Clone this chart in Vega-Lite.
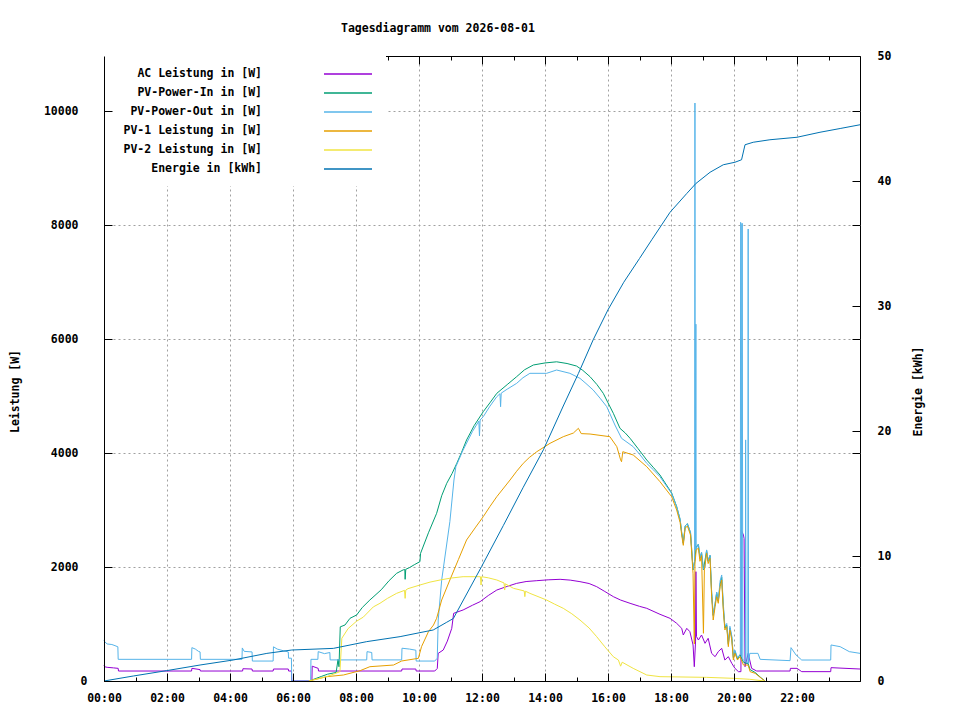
{
  "$schema": "https://vega.github.io/schema/vega-lite/v6.json",
  "width": 756,
  "height": 625,
  "autosize": {"type": "none"},
  "padding": {"left": 104, "top": 56, "right": 100, "bottom": 39},
  "background": "#ffffff",
  "title": {
    "text": "Tagesdiagramm vom 2026-08-01",
    "anchor": "start",
    "frame": "group",
    "dx": 237,
    "offset": 16,
    "font": "DejaVu Sans Mono",
    "fontSize": 11.5,
    "fontWeight": "bold",
    "color": "#000000"
  },
  "datasets": {
    "ac": [
      {"t": 0, "v": 280}, {"t": 0.02, "v": 250}, {"t": 0.1, "v": 240}, {"t": 0.3, "v": 230}, {"t": 0.45, "v": 222}, {"t": 0.46, "v": 175},
      {"t": 2.78, "v": 175}, {"t": 2.79, "v": 222}, {"t": 3.05, "v": 200}, {"t": 3.06, "v": 175}, {"t": 4.4, "v": 175}, {"t": 4.41, "v": 215},
      {"t": 4.7, "v": 210}, {"t": 4.71, "v": 175}, {"t": 5.37, "v": 175}, {"t": 5.38, "v": 210}, {"t": 5.85, "v": 210}, {"t": 5.86, "v": 175},
      {"t": 5.95, "v": 175}, {"t": 5.96, "v": 0}, {"t": 6.6, "v": 0}, {"t": 6.61, "v": 260}, {"t": 6.8, "v": 222}, {"t": 6.81, "v": 175},
      {"t": 9.45, "v": 175}, {"t": 9.46, "v": 210}, {"t": 9.9, "v": 210}, {"t": 9.91, "v": 175}, {"t": 10.5, "v": 175}, {"t": 10.58, "v": 220},
      {"t": 10.61, "v": 485}, {"t": 10.77, "v": 544}, {"t": 10.9, "v": 700}, {"t": 11.04, "v": 924}, {"t": 11.1, "v": 1187}, {"t": 11.4, "v": 1246},
      {"t": 11.7, "v": 1330}, {"t": 11.94, "v": 1392}, {"t": 12.2, "v": 1500}, {"t": 12.47, "v": 1596}, {"t": 12.8, "v": 1660}, {"t": 13.1, "v": 1713},
      {"t": 13.4, "v": 1745}, {"t": 13.74, "v": 1760}, {"t": 14.1, "v": 1775}, {"t": 14.48, "v": 1784}, {"t": 14.8, "v": 1770}, {"t": 15.11, "v": 1743},
      {"t": 15.4, "v": 1710}, {"t": 15.64, "v": 1655}, {"t": 15.9, "v": 1570}, {"t": 16.17, "v": 1480}, {"t": 16.4, "v": 1420}, {"t": 16.7, "v": 1363},
      {"t": 17.0, "v": 1310}, {"t": 17.23, "v": 1275}, {"t": 17.65, "v": 1170}, {"t": 17.97, "v": 1099},
      {"t": 18.18, "v": 1012}, {"t": 18.34, "v": 924}, {"t": 18.39, "v": 807}, {"t": 18.5, "v": 924}, {"t": 18.6, "v": 865}, {"t": 18.7, "v": 632},
      {"t": 18.74, "v": 251}, {"t": 18.78, "v": 700}, {"t": 18.79, "v": 1918}, {"t": 18.81, "v": 780}, {"t": 18.87, "v": 719}, {"t": 18.97, "v": 807},
      {"t": 19.08, "v": 661}, {"t": 19.18, "v": 749}, {"t": 19.29, "v": 485}, {"t": 19.4, "v": 427}, {"t": 19.5, "v": 515}, {"t": 19.61, "v": 573},
      {"t": 19.71, "v": 368}, {"t": 19.82, "v": 427}, {"t": 19.93, "v": 310}, {"t": 20.03, "v": 222}, {"t": 20.14, "v": 164}, {"t": 20.22, "v": 164},
      {"t": 20.23, "v": 2649}, {"t": 20.3, "v": 2561}, {"t": 20.32, "v": 2500}, {"t": 20.35, "v": 251}, {"t": 20.45, "v": 485}, {"t": 20.56, "v": 222},
      {"t": 20.72, "v": 175}, {"t": 21.78, "v": 175}, {"t": 21.79, "v": 222}, {"t": 22.0, "v": 222}, {"t": 22.15, "v": 164}, {"t": 23.07, "v": 164},
      {"t": 23.08, "v": 234}, {"t": 24, "v": 210}
    ],
    "pin": [
      {"t": 6.6, "v": 18}, {"t": 6.9, "v": 80}, {"t": 7.1, "v": 120}, {"t": 7.37, "v": 150}, {"t": 7.43, "v": 380}, {"t": 7.46, "v": 250},
      {"t": 7.5, "v": 950}, {"t": 7.65, "v": 982}, {"t": 7.81, "v": 1100}, {"t": 8.02, "v": 1158}, {"t": 8.2, "v": 1290}, {"t": 8.44, "v": 1421},
      {"t": 8.8, "v": 1600}, {"t": 9.05, "v": 1760}, {"t": 9.29, "v": 1889}, {"t": 9.5, "v": 1950}, {"t": 9.55, "v": 1955}, {"t": 9.56, "v": 1784},
      {"t": 9.58, "v": 1960}, {"t": 9.7, "v": 1990}, {"t": 9.85, "v": 2040},
      {"t": 10.03, "v": 2094}, {"t": 10.05, "v": 2240}, {"t": 10.3, "v": 2600}, {"t": 10.56, "v": 2942}, {"t": 10.72, "v": 3250},
      {"t": 10.88, "v": 3468}, {"t": 11.05, "v": 3640}, {"t": 11.2, "v": 3819}, {"t": 11.35, "v": 4010}, {"t": 11.51, "v": 4228}, {"t": 11.75, "v": 4480},
      {"t": 12.04, "v": 4725}, {"t": 12.25, "v": 4880}, {"t": 12.47, "v": 5047}, {"t": 12.8, "v": 5200}, {"t": 13.1, "v": 5339}, {"t": 13.35, "v": 5460},
      {"t": 13.63, "v": 5544}, {"t": 14.0, "v": 5580}, {"t": 14.37, "v": 5600}, {"t": 14.7, "v": 5570}, {"t": 15.0, "v": 5526}, {"t": 15.2, "v": 5450},
      {"t": 15.43, "v": 5339}, {"t": 15.65, "v": 5200}, {"t": 15.85, "v": 5047}, {"t": 16.0, "v": 4880}, {"t": 16.17, "v": 4696}, {"t": 16.38, "v": 4433},
      {"t": 16.55, "v": 4350}, {"t": 16.7, "v": 4258}, {"t": 16.95, "v": 4080}, {"t": 17.23, "v": 3877}, {"t": 17.45, "v": 3740}, {"t": 17.65, "v": 3614},
      {"t": 18.02, "v": 3300}, {"t": 18.18, "v": 3060}, {"t": 18.29, "v": 2830}, {"t": 18.34, "v": 2600}, {"t": 18.39, "v": 2420}, {"t": 18.45, "v": 2720},
      {"t": 18.52, "v": 2760}, {"t": 18.62, "v": 2600}, {"t": 18.7, "v": 1950}, {"t": 18.75, "v": 2100}, {"t": 18.8, "v": 2350}, {"t": 18.87, "v": 2400},
      {"t": 18.92, "v": 2150}, {"t": 18.97, "v": 2250}, {"t": 19.03, "v": 1950}, {"t": 19.13, "v": 2290}, {"t": 19.18, "v": 2100}, {"t": 19.24, "v": 2200},
      {"t": 19.29, "v": 1550}, {"t": 19.34, "v": 1150}, {"t": 19.4, "v": 1350}, {"t": 19.45, "v": 1550}, {"t": 19.5, "v": 1400}, {"t": 19.56, "v": 1700},
      {"t": 19.61, "v": 1820}, {"t": 19.66, "v": 1300}, {"t": 19.71, "v": 930}, {"t": 19.77, "v": 980}, {"t": 19.82, "v": 640}, {"t": 19.87, "v": 930},
      {"t": 19.93, "v": 760}, {"t": 19.98, "v": 410}, {"t": 20.03, "v": 520}, {"t": 20.11, "v": 390}, {"t": 20.19, "v": 460}, {"t": 20.3, "v": 330},
      {"t": 20.45, "v": 300}, {"t": 20.51, "v": 200}, {"t": 20.67, "v": 150}, {"t": 20.83, "v": 70}, {"t": 20.98, "v": 0}
    ],
    "pout": [
      {"t": 0, "v": 720}, {"t": 0.02, "v": 690}, {"t": 0.1, "v": 650}, {"t": 0.25, "v": 640}, {"t": 0.35, "v": 620}, {"t": 0.44, "v": 600},
      {"t": 0.45, "v": 380}, {"t": 2.78, "v": 380}, {"t": 2.79, "v": 585}, {"t": 2.9, "v": 560}, {"t": 3.0, "v": 520}, {"t": 3.05, "v": 510},
      {"t": 3.06, "v": 380}, {"t": 4.38, "v": 380}, {"t": 4.39, "v": 580}, {"t": 4.45, "v": 520}, {"t": 4.7, "v": 510}, {"t": 4.71, "v": 350},
      {"t": 5.37, "v": 350}, {"t": 5.38, "v": 600}, {"t": 5.5, "v": 560}, {"t": 5.7, "v": 530}, {"t": 5.85, "v": 510}, {"t": 5.86, "v": 400},
      {"t": 5.95, "v": 400}, {"t": 5.96, "v": 0}, {"t": 6.56, "v": 0}, {"t": 6.57, "v": 380}, {"t": 6.79, "v": 380}, {"t": 6.8, "v": 515},
      {"t": 7.0, "v": 480}, {"t": 7.17, "v": 500}, {"t": 7.18, "v": 370}, {"t": 8.34, "v": 370}, {"t": 8.35, "v": 515}, {"t": 8.5, "v": 500},
      {"t": 8.51, "v": 370}, {"t": 9.45, "v": 370}, {"t": 9.46, "v": 575}, {"t": 9.7, "v": 560}, {"t": 9.9, "v": 540}, {"t": 9.91, "v": 350},
      {"t": 10.5, "v": 350}, {"t": 10.58, "v": 400}, {"t": 10.61, "v": 1070}, {"t": 10.72, "v": 1770}, {"t": 10.98, "v": 2795}, {"t": 11.11, "v": 3526},
      {"t": 11.17, "v": 3760}, {"t": 11.4, "v": 4053}, {"t": 11.7, "v": 4380}, {"t": 11.9, "v": 4560}, {"t": 11.92, "v": 4300}, {"t": 11.94, "v": 4580},
      {"t": 12.04, "v": 4637}, {"t": 12.25, "v": 4820}, {"t": 12.47, "v": 4988}, {"t": 12.57, "v": 5040}, {"t": 12.59, "v": 4812}, {"t": 12.61, "v": 5050},
      {"t": 12.8, "v": 5120}, {"t": 13.1, "v": 5222}, {"t": 13.3, "v": 5320}, {"t": 13.52, "v": 5398}, {"t": 14.05, "v": 5398}, {"t": 14.37, "v": 5456},
      {"t": 14.79, "v": 5398}, {"t": 15.11, "v": 5310}, {"t": 15.3, "v": 5220}, {"t": 15.53, "v": 5105}, {"t": 15.75, "v": 4960}, {"t": 15.96, "v": 4813},
      {"t": 16.22, "v": 4491}, {"t": 16.43, "v": 4258}, {"t": 16.8, "v": 4111}, {"t": 17.0, "v": 3980}, {"t": 17.23, "v": 3819}, {"t": 17.45, "v": 3700},
      {"t": 17.65, "v": 3584}, {"t": 18.02, "v": 3290}, {"t": 18.18, "v": 3060}, {"t": 18.29, "v": 2840}, {"t": 18.34, "v": 2600}, {"t": 18.39, "v": 2410},
      {"t": 18.45, "v": 2720}, {"t": 18.52, "v": 2760}, {"t": 18.62, "v": 2610}, {"t": 18.7, "v": 1960}, {"t": 18.75, "v": 2110}, {"t": 18.76, "v": 10140},
      {"t": 18.77, "v": 2300}, {"t": 18.79, "v": 6260}, {"t": 18.8, "v": 2320}, {"t": 18.87, "v": 2400}, {"t": 18.92, "v": 2160}, {"t": 18.97, "v": 2260},
      {"t": 19.03, "v": 1960}, {"t": 19.08, "v": 2000}, {"t": 19.13, "v": 2300}, {"t": 19.18, "v": 2110}, {"t": 19.24, "v": 2210}, {"t": 19.29, "v": 1560},
      {"t": 19.34, "v": 1160}, {"t": 19.4, "v": 1360}, {"t": 19.45, "v": 1560}, {"t": 19.5, "v": 1410}, {"t": 19.56, "v": 1760}, {"t": 19.61, "v": 1860},
      {"t": 19.66, "v": 1360}, {"t": 19.71, "v": 960}, {"t": 19.77, "v": 1010}, {"t": 19.82, "v": 660}, {"t": 19.87, "v": 960}, {"t": 19.93, "v": 790},
      {"t": 19.98, "v": 430}, {"t": 20.03, "v": 540}, {"t": 20.11, "v": 410}, {"t": 20.2, "v": 470}, {"t": 20.21, "v": 8047}, {"t": 20.23, "v": 8000},
      {"t": 20.24, "v": 420}, {"t": 20.26, "v": 8030}, {"t": 20.28, "v": 380}, {"t": 20.36, "v": 340}, {"t": 20.37, "v": 4230}, {"t": 20.38, "v": 330},
      {"t": 20.44, "v": 320}, {"t": 20.45, "v": 7930}, {"t": 20.46, "v": 300}, {"t": 20.5, "v": 485}, {"t": 20.76, "v": 485}, {"t": 20.83, "v": 380},
      {"t": 21.78, "v": 357}, {"t": 21.81, "v": 585}, {"t": 21.97, "v": 456}, {"t": 22.15, "v": 368}, {"t": 23.07, "v": 368}, {"t": 23.08, "v": 632},
      {"t": 23.37, "v": 602}, {"t": 23.66, "v": 515}, {"t": 24, "v": 485}
    ],
    "pv1": [
      {"t": 6.5, "v": 0}, {"t": 7.07, "v": 76}, {"t": 7.6, "v": 105}, {"t": 8.13, "v": 181}, {"t": 8.44, "v": 251}, {"t": 9.19, "v": 280},
      {"t": 9.45, "v": 351}, {"t": 9.98, "v": 398}, {"t": 10.08, "v": 602}, {"t": 10.3, "v": 865}, {"t": 10.46, "v": 982}, {"t": 10.56, "v": 1100},
      {"t": 10.72, "v": 1421}, {"t": 10.98, "v": 1772}, {"t": 11.25, "v": 2130}, {"t": 11.51, "v": 2474}, {"t": 11.8, "v": 2700}, {"t": 12.04, "v": 2883},
      {"t": 12.25, "v": 3060}, {"t": 12.47, "v": 3234}, {"t": 12.89, "v": 3526}, {"t": 13.1, "v": 3680}, {"t": 13.31, "v": 3819}, {"t": 13.5, "v": 3920},
      {"t": 13.74, "v": 4023}, {"t": 14.16, "v": 4170}, {"t": 14.58, "v": 4286}, {"t": 14.9, "v": 4350}, {"t": 15.06, "v": 4433},
      {"t": 15.15, "v": 4340}, {"t": 15.43, "v": 4333}, {"t": 16.06, "v": 4286}, {"t": 16.28, "v": 4111}, {"t": 16.4, "v": 3880}, {"t": 16.43, "v": 3847},
      {"t": 16.47, "v": 4023}, {"t": 16.8, "v": 3965}, {"t": 17.23, "v": 3760}, {"t": 17.65, "v": 3497}, {"t": 18.02, "v": 3234}, {"t": 18.18, "v": 3000},
      {"t": 18.29, "v": 2780}, {"t": 18.34, "v": 2560}, {"t": 18.39, "v": 2380}, {"t": 18.45, "v": 2680}, {"t": 18.52, "v": 2720}, {"t": 18.62, "v": 2560},
      {"t": 18.7, "v": 1880}, {"t": 18.74, "v": 650}, {"t": 18.76, "v": 2050}, {"t": 18.8, "v": 2300}, {"t": 18.87, "v": 2330}, {"t": 18.92, "v": 2100},
      {"t": 18.97, "v": 2200}, {"t": 19.03, "v": 837}, {"t": 19.06, "v": 1950}, {"t": 19.13, "v": 2240}, {"t": 19.18, "v": 2060}, {"t": 19.24, "v": 2150},
      {"t": 19.29, "v": 1479}, {"t": 19.34, "v": 1070}, {"t": 19.4, "v": 1304}, {"t": 19.45, "v": 1479}, {"t": 19.5, "v": 1363}, {"t": 19.56, "v": 1655},
      {"t": 19.61, "v": 1772}, {"t": 19.66, "v": 1250}, {"t": 19.71, "v": 895}, {"t": 19.77, "v": 953}, {"t": 19.82, "v": 602}, {"t": 19.87, "v": 895},
      {"t": 19.93, "v": 719}, {"t": 19.98, "v": 368}, {"t": 20.03, "v": 485}, {"t": 20.11, "v": 368}, {"t": 20.19, "v": 427}, {"t": 20.3, "v": 280},
      {"t": 20.45, "v": 280}, {"t": 20.51, "v": 164}, {"t": 20.67, "v": 135}, {"t": 20.83, "v": 64}, {"t": 20.98, "v": 0}
    ],
    "pv2": [
      {"t": 6.5, "v": 0}, {"t": 7.07, "v": 76}, {"t": 7.49, "v": 163}, {"t": 7.55, "v": 749}, {"t": 7.75, "v": 920}, {"t": 8.02, "v": 1050},
      {"t": 8.23, "v": 1120}, {"t": 8.55, "v": 1300}, {"t": 8.76, "v": 1363}, {"t": 9.0, "v": 1450}, {"t": 9.29, "v": 1538}, {"t": 9.54, "v": 1590},
      {"t": 9.56, "v": 1450}, {"t": 9.58, "v": 1595}, {"t": 9.65, "v": 1620},
      {"t": 10.03, "v": 1684}, {"t": 10.35, "v": 1735}, {"t": 10.67, "v": 1772}, {"t": 11.0, "v": 1805}, {"t": 11.4, "v": 1830}, {"t": 11.95, "v": 1830},
      {"t": 11.97, "v": 1684}, {"t": 11.99, "v": 1830},
      {"t": 12.2, "v": 1810}, {"t": 12.47, "v": 1772}, {"t": 12.7, "v": 1720}, {"t": 12.72, "v": 1596}, {"t": 12.74, "v": 1705}, {"t": 13.0, "v": 1626},
      {"t": 13.34, "v": 1580}, {"t": 13.36, "v": 1480}, {"t": 13.38, "v": 1575}, {"t": 13.52, "v": 1538}, {"t": 14.05, "v": 1421},
      {"t": 14.3, "v": 1350}, {"t": 14.58, "v": 1275}, {"t": 14.85, "v": 1180}, {"t": 15.11, "v": 1070}, {"t": 15.4, "v": 930}, {"t": 15.64, "v": 778},
      {"t": 15.9, "v": 600}, {"t": 16.17, "v": 426}, {"t": 16.33, "v": 368}, {"t": 16.4, "v": 260},
      {"t": 16.45, "v": 330}, {"t": 16.8, "v": 222}, {"t": 17.23, "v": 105}, {"t": 17.65, "v": 76}, {"t": 19.13, "v": 64}, {"t": 19.98, "v": 47},
      {"t": 20.5, "v": 30}, {"t": 20.98, "v": 0}
    ],
    "en": [
      {"t": 0, "v": 0}, {"t": 0.93, "v": 0.4}, {"t": 1.99, "v": 0.83}, {"t": 3.05, "v": 1.28}, {"t": 4.1, "v": 1.68}, {"t": 5.17, "v": 2.21},
      {"t": 5.96, "v": 2.48}, {"t": 7.28, "v": 2.61}, {"t": 8.34, "v": 3.15}, {"t": 9.4, "v": 3.55}, {"t": 10.03, "v": 3.87}, {"t": 10.45, "v": 4.08},
      {"t": 10.88, "v": 4.7}, {"t": 11.09, "v": 5.0}, {"t": 11.99, "v": 9.17}, {"t": 12.68, "v": 12.45}, {"t": 13.31, "v": 15.5}, {"t": 13.95, "v": 18.5},
      {"t": 14.58, "v": 22.0}, {"t": 15.06, "v": 24.6}, {"t": 15.53, "v": 27.3}, {"t": 16.0, "v": 29.7}, {"t": 16.5, "v": 31.9}, {"t": 17.0, "v": 33.8},
      {"t": 17.39, "v": 35.3}, {"t": 17.97, "v": 37.5}, {"t": 18.5, "v": 39.0}, {"t": 18.79, "v": 39.8}, {"t": 19.24, "v": 40.7}, {"t": 19.66, "v": 41.3},
      {"t": 20.03, "v": 41.5}, {"t": 20.24, "v": 41.7}, {"t": 20.35, "v": 42.9}, {"t": 20.61, "v": 43.1}, {"t": 21.14, "v": 43.3}, {"t": 22.0, "v": 43.5},
      {"t": 22.73, "v": 43.9}, {"t": 23.37, "v": 44.2}, {"t": 24, "v": 44.5}
    ]
  },
  "layer": [
    {
      "layer": [
        {
          "data": {"name": "ac"},
          "mark": {"type": "line", "strokeWidth": 1},
          "encoding": {
            "x": {
              "field": "t", "type": "quantitative",
              "scale": {"domain": [0, 24], "nice": false, "zero": false},
              "axis": {
                "orient": "bottom", "values": [0, 2, 4, 6, 8, 10, 12, 14, 16, 18, 20, 22],
                "labelExpr": "(datum.value < 10 ? '0' : '') + datum.value + ':00'",
                "tickSize": -8, "labelPadding": 19, "grid": false, "title": null, "zindex": 1
              }
            },
            "y": {
              "field": "v", "type": "quantitative",
              "scale": {"domain": [0, 10965], "nice": false, "zero": false},
              "axis": {
                "orient": "left", "values": [0, 2000, 4000, 6000, 8000, 10000], "format": "d",
                "tickSize": -8,
                "labelPadding": {"condition": {"test": "datum.value === 0", "value": 25}, "value": 34},
                "grid": false, "title": "Leistung [W]", "titleAngle": 270, "titleX": -84, "titleY": 335, "zindex": 1
              }
            },
            "color": {
              "datum": "AC Leistung in [W]", "type": "nominal",
              "scale": {
                "domain": ["AC Leistung in [W]", "PV-Power-In in [W]", "PV-Power-Out in [W]", "PV-1 Leistung in [W]", "PV-2 Leistung in [W]", "Energie in [kWh]"],
                "range": ["#9400d3", "#009e73", "#56b4e9", "#e69f00", "#f0e442", "#0072b2"]
              },
              "legend": {
                "title": null, "orient": "none", "legendX": 0, "legendY": 0
              }
            }
          }
        },
        {
          "data": {"name": "pin"},
          "mark": {"type": "line", "strokeWidth": 1},
          "encoding": {
            "x": {
              "field": "t", "type": "quantitative",
              "axis": {
                "orient": "top", "values": [1, 2, 3, 4, 5, 6, 7, 8, 9, 10, 11, 12, 13, 14, 15, 16, 17, 18, 19, 20, 21, 22, 23],
                "labels": false, "domain": false, "title": null,
                "tickSize": {"condition": {"test": "datum.value % 2 === 1", "value": -4}, "value": -8},
                "grid": true,
                "gridOpacity": {"condition": {"test": "datum.value % 2 === 1", "value": 0}, "value": 1},
                "zindex": 0
              }
            },
            "y": {
              "field": "v", "type": "quantitative",
              "axis": {
                "orient": "right", "values": [2000, 4000, 6000, 8000, 10000],
                "labels": false, "domain": false, "title": null, "tickSize": -8, "grid": true, "zindex": 0
              }
            },
            "color": {"datum": "PV-Power-In in [W]", "type": "nominal"}
          }
        },
        {
          "data": {"name": "pout"},
          "mark": {"type": "line", "strokeWidth": 1},
          "encoding": {
            "x": {
              "field": "t", "type": "quantitative",
              "axis": {
                "orient": "bottom", "values": [1, 3, 5, 7, 9, 11, 13, 15, 17, 19, 21, 23],
                "labels": false, "domain": false, "title": null, "tickSize": -4, "grid": false, "zindex": 1
              }
            },
            "y": {"field": "v", "type": "quantitative", "axis": null},
            "color": {"datum": "PV-Power-Out in [W]", "type": "nominal"}
          }
        },
        {
          "data": {"name": "pv1"},
          "mark": {"type": "line", "strokeWidth": 1},
          "encoding": {
            "x": {"field": "t", "type": "quantitative", "axis": null},
            "y": {"field": "v", "type": "quantitative", "axis": null},
            "color": {"datum": "PV-1 Leistung in [W]", "type": "nominal"}
          }
        },
        {
          "data": {"name": "pv2"},
          "mark": {"type": "line", "strokeWidth": 1},
          "encoding": {
            "x": {"field": "t", "type": "quantitative", "axis": null},
            "y": {"field": "v", "type": "quantitative", "axis": null},
            "color": {"datum": "PV-2 Leistung in [W]", "type": "nominal"}
          }
        }
      ],
      "resolve": {"axis": {"x": "independent", "y": "independent"}}
    },
    {
      "data": {"name": "en"},
      "mark": {"type": "line", "strokeWidth": 1},
      "encoding": {
        "x": {"field": "t", "type": "quantitative", "axis": null},
        "y": {
          "field": "v", "type": "quantitative",
          "scale": {"domain": [0, 50], "nice": false, "zero": false},
          "axis": {
            "orient": "right", "values": [0, 10, 20, 30, 40, 50],
            "tickSize": -8, "labelPadding": 25, "domain": false, "grid": false,
            "title": "Energie [kWh]", "titleAngle": 270, "titleX": 63, "titleY": 335, "zindex": 1
          }
        },
        "color": {"datum": "Energie in [kWh]", "type": "nominal"}
      }
    }
  ],
  "resolve": {"scale": {"y": "independent"}, "axis": {"x": "independent"}},
  "config": {
    "font": "DejaVu Sans Mono",
    "view": {"stroke": "#000000", "strokeWidth": 1},
    "axis": {
      "labelFont": "DejaVu Sans Mono", "labelFontSize": 11.5, "labelFontWeight": "bold", "labelColor": "#000000",
      "titleFont": "DejaVu Sans Mono", "titleFontSize": 11.5, "titleFontWeight": "bold", "titleColor": "#000000",
      "tickColor": "#000000", "tickWidth": 1, "domainColor": "#000000", "domainWidth": 1,
      "gridColor": "#a0a0a0", "gridDash": [2, 3], "gridWidth": 1, "labelFlush": false, "labelOverlap": false
    },
    "legend": {
      "fillColor": "#ffffff", "padding": 11, "symbolType": "M-4,0H4", "symbolSize": 144, "symbolStrokeWidth": 1.3,
      "rowPadding": 6, "labelAlign": "right", "labelOffset": -93, "symbolOffset": 226,
      "labelFont": "DejaVu Sans Mono", "labelFontSize": 11.5, "labelFontWeight": "bold", "labelColor": "#000000", "labelLimit": 0
    }
  }
}
